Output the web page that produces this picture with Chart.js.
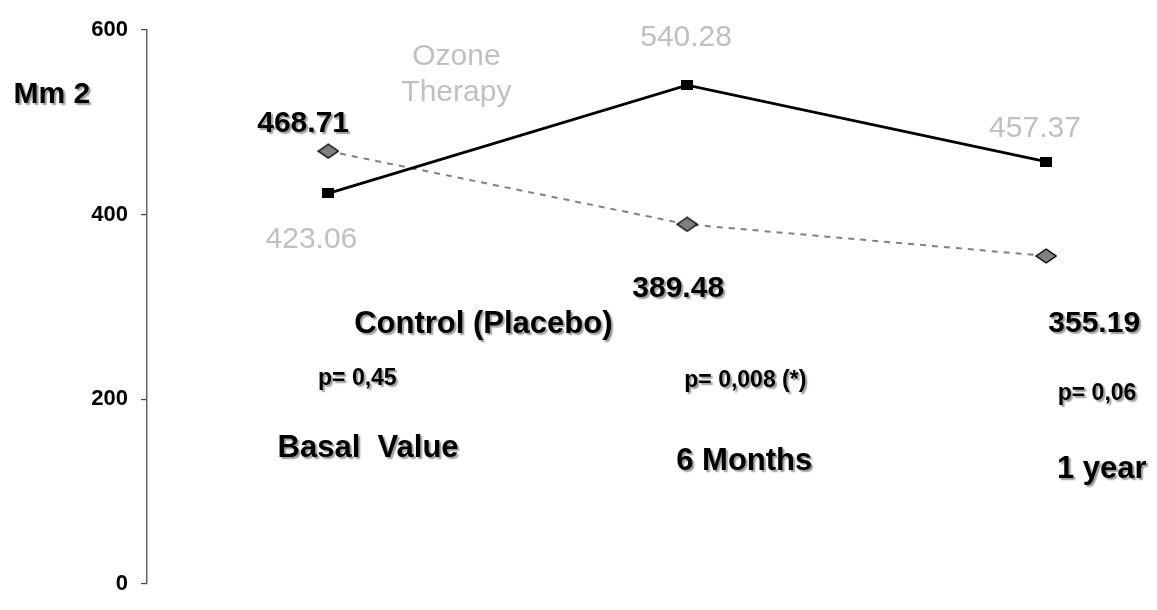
<!DOCTYPE html>
<html>
<head>
<meta charset="utf-8">
<script src="https://cdn.jsdelivr.net/npm/chart.js@4/dist/chart.umd.min.js"></script>
<style>
  html, body { margin: 0; padding: 0; background: #fff; }
  #wrap { width: 1157px; height: 610px; position: relative; }
</style>
</head>
<body>
<div id="wrap"><canvas id="myChart" width="1157" height="610"></canvas></div>
<script>
// values
const categories = ['Basal  Value', '6 Months', '1 year'];
const ozoneValues = [423.06, 540.28, 457.37];
const controlValues = [468.71, 389.48, 355.19];
const pValues = ['p= 0,45', 'p= 0,008 (*)', 'p= 0,06'];
const yTicks = [0, 200, 400, 600];
const yTitle = 'Mm 2';
const ozoneName = ['Ozone', 'Therapy'];
const controlName = 'Control (Placebo)';

const FONT = '"Liberation Sans", Arial, sans-serif';

// marker images
function makeSquare() {
	const c = document.createElement('canvas');
	c.width = 12; c.height = 10;
	const g = c.getContext('2d');
	g.fillStyle = '#000';
	g.fillRect(0, 0, 12, 10);
	return c;
}
function makeDiamond() {
	const c = document.createElement('canvas');
	c.width = 22; c.height = 16;
	const g = c.getContext('2d');
	g.beginPath();
	g.moveTo(1, 8); g.lineTo(11, 1); g.lineTo(21, 8); g.lineTo(11, 15); g.closePath();
	g.fillStyle = '#808080';
	g.fill();
	g.lineWidth = 1.4;
	g.strokeStyle = '#000';
	g.stroke();
	return c;
}

// text placed in data units: x = category index, y = axis value
// kind: b = bold black with shadow, g = grey regular
const notes = [
	{ text: yTitle, x: -0.77, y: 530, size: 30, kind: 'b' },
	{ text: ozoneName[0], x: 0.357, y: 571, size: 30, kind: 'g' },
	{ text: ozoneName[1], x: 0.357, y: 532, size: 30, kind: 'g' },
	{ text: controlValues[0].toFixed(2), x: -0.07, y: 498, size: 30, kind: 'b' },
	{ text: ozoneValues[0].toFixed(2), x: -0.047, y: 373, size: 30, kind: 'g' },
	{ text: ozoneValues[1].toFixed(2), x: 0.997, y: 592, size: 30, kind: 'g' },
	{ text: ozoneValues[2].toFixed(2), x: 1.969, y: 493, size: 30, kind: 'g' },
	{ text: controlValues[1].toFixed(2), x: 0.975, y: 320, size: 30, kind: 'b' },
	{ text: controlValues[2].toFixed(2), x: 2.134, y: 282, size: 30, kind: 'b' },
	{ text: controlName, x: 0.432, y: 281, size: 31, kind: 'b' },
	{ text: pValues[0], x: 0.081, y: 222, size: 23, kind: 'b' },
	{ text: pValues[1], x: 1.162, y: 220, size: 23, kind: 'b' },
	{ text: pValues[2], x: 2.142, y: 206, size: 23, kind: 'b' },
	{ text: categories[0], x: 0.111, y: 147, size: 31, kind: 'b' },
	{ text: categories[1], x: 1.159, y: 133, size: 31, kind: 'b' },
	{ text: categories[2], x: 2.155, y: 124, size: 31, kind: 'b' }
];

const notePlugin = {
	id: 'notes',
	afterDraw(chart) {
		const ctx = chart.ctx;
		const xs = chart.scales.x, ys = chart.scales.y;
		ctx.save();
		ctx.textAlign = 'center';
		ctx.textBaseline = 'middle';
		notes.forEach(n => {
			const px = xs.getPixelForValue(n.x);
			const py = ys.getPixelForValue(n.y);
			if (n.kind === 'b') {
				ctx.font = 'bold ' + n.size + 'px ' + FONT;
				ctx.shadowColor = 'rgba(0,0,0,0.4)';
				ctx.shadowOffsetX = 2;
				ctx.shadowOffsetY = 2;
				ctx.shadowBlur = 1.5;
				ctx.fillStyle = '#000';
			} else {
				ctx.font = n.size + 'px ' + FONT;
				ctx.shadowColor = 'transparent';
				ctx.fillStyle = '#c0c0c0';
			}
			ctx.fillText(n.text, px, py);
		});
		ctx.restore();
	}
};

const ctx = document.getElementById('myChart').getContext('2d');
let myChart = new Chart(ctx, {
	type: 'line',
	data: {
		datasets: [{
			label: ozoneName.join(' '),
			data: ozoneValues.map((v, i) => ({ x: i, y: v })),
			borderColor: '#000',
			borderWidth: 2.8,
			pointStyle: makeSquare(),
			tension: 0
		}, {
			label: controlName,
			data: controlValues.map((v, i) => ({ x: i, y: v })),
			borderColor: '#808080',
			borderWidth: 2,
			borderDash: [6, 6],
			pointStyle: makeDiamond(),
			tension: 0
		}]
	},
	options: {
		responsive: false,
		animation: false,
		layout: { padding: { top: 30, bottom: 22, right: 14, left: 0 } },
		plugins: {
			legend: { display: false },
			tooltip: { enabled: false }
		},
		scales: {
			x: {
				type: 'linear',
				min: -0.505,
				max: 2.27,
				display: false
			},
			y: {
				min: 0,
				max: 600,
				afterBuildTicks: s => { s.ticks = yTicks.map(v => ({ value: v })); },
				afterFit: s => { s.width = 147; },
				border: { display: true, color: '#666', width: 1.5 },
				grid: { drawOnChartArea: false, tickLength: 6, color: '#444', lineWidth: 1.2 },
				ticks: {
					padding: 13,
					color: '#000',
					font: { family: FONT, size: 22, weight: 'bold' }
				}
			}
		}
	},
	plugins: [notePlugin]
});
</script>
</body>
</html>
